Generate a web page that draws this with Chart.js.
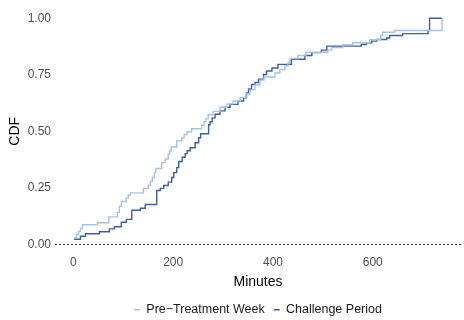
<!DOCTYPE html>
<html>
<head>
<meta charset="utf-8">
<title>CDF of minutes</title>
<script src="https://cdn.jsdelivr.net/npm/chart.js@4/dist/chart.umd.min.js"></script>
<style>
  html, body { margin: 0; padding: 0; background: #ffffff; }
  #wrap { width: 464px; height: 320px; }
</style>
</head>
<body>
<div id="wrap"><canvas id="cdfChart" width="464" height="320"></canvas></div>
<script>
// Empirical CDF steps: minute where the step happens, CDF value after it
const preMinutes = [1, 6, 10, 14, 18, 48, 71, 88, 92, 96, 106, 110, 114, 140, 150, 154, 158, 162, 165,
    177, 184, 190, 193, 196, 207, 217, 222, 228, 237, 257, 262, 265, 270, 280, 294, 308, 320, 334,
    346, 354, 364, 374, 382, 404, 414, 424, 430, 434, 450, 466, 510, 518, 540, 560, 594, 616, 620,
    644, 739];
const preCdf = [0.029, 0.044, 0.057, 0.070, 0.086, 0.095, 0.121, 0.141, 0.167, 0.189, 0.205, 0.218,
    0.227, 0.247, 0.260, 0.278, 0.295, 0.317, 0.335, 0.361, 0.377, 0.399, 0.414, 0.430, 0.458, 0.471,
    0.485, 0.498, 0.511, 0.526, 0.542, 0.555, 0.573, 0.588, 0.606, 0.621, 0.634, 0.650, 0.665, 0.683,
    0.705, 0.727, 0.740, 0.758, 0.773, 0.789, 0.804, 0.822, 0.835, 0.850, 0.859, 0.870, 0.883, 0.892,
    0.905, 0.925, 0.938, 0.946, 1.000];

const challengeMinutes = [1, 14, 24, 52, 72, 82, 96, 106, 117, 134, 144, 167, 174, 181, 190, 197, 201,
    207, 211, 218, 224, 228, 234, 244, 251, 255, 271, 274, 278, 284, 294, 304, 314, 330, 341, 347,
    351, 357, 364, 371, 381, 387, 398, 410, 437, 464, 478, 497, 508, 577, 587, 598, 608, 628, 634,
    660, 711, 714, 739];
const challengeCdf = [0.022, 0.035, 0.046, 0.055, 0.068, 0.077, 0.097, 0.110, 0.150, 0.159, 0.176,
    0.238, 0.247, 0.260, 0.275, 0.295, 0.317, 0.339, 0.366, 0.385, 0.401, 0.414, 0.427, 0.449, 0.471,
    0.489, 0.529, 0.542, 0.559, 0.575, 0.590, 0.606, 0.619, 0.634, 0.648, 0.670, 0.687, 0.707, 0.716,
    0.730, 0.751, 0.767, 0.780, 0.796, 0.819, 0.835, 0.848, 0.859, 0.877, 0.884, 0.891, 0.899, 0.906,
    0.913, 0.924, 0.932, 0.946, 1.000, 1.000];

const xTicks = [0, 200, 400, 600];
const yTicks = [0, 0.25, 0.5, 0.75, 1];

const FONT = '"Liberation Sans", Arial, Helvetica, sans-serif';

document.addEventListener('DOMContentLoaded', function() {
    initCdfChart();
});

/**
 * Pair up minute / CDF arrays into points for a linear x scale
 */
function toPoints(xs, ys) {
    return xs.map((x, i) => ({ x: x, y: ys[i] }));
}

/**
 * Dashed reference line at CDF = 0
 */
const zeroLine = {
    id: 'zeroLine',
    beforeDatasetsDraw(chart) {
        const { ctx, chartArea, scales } = chart;
        const y = Math.round(scales.y.getPixelForValue(0)) + 0.5;
        ctx.save();
        ctx.strokeStyle = '#333333';
        ctx.lineWidth = 1;
        ctx.setLineDash([2, 2]);
        ctx.beginPath();
        ctx.moveTo(chartArea.left, y);
        ctx.lineTo(chartArea.right, y);
        ctx.stroke();
        ctx.restore();
    }
};

function initCdfChart() {
    const canvas = document.getElementById('cdfChart');

    new Chart(canvas, {
        type: 'line',
        data: {
            datasets: [{
                label: 'Pre\u2212Treatment Week',
                data: toPoints(preMinutes, preCdf),
                borderColor: '#a6c3e6',
                backgroundColor: '#a6c3e6',
                borderWidth: 1.4,
                stepped: true,
                pointRadius: 0,
                fill: false
            }, {
                label: 'Challenge Period',
                data: toPoints(challengeMinutes, challengeCdf),
                borderColor: '#3d5f9e',
                backgroundColor: '#3d5f9e',
                borderWidth: 1.4,
                stepped: true,
                pointRadius: 0,
                fill: false
            }]
        },
        options: {
            responsive: false,
            animation: false,
            devicePixelRatio: 1,
            layout: {
                padding: { top: 5.6, right: 3, bottom: -6, left: 0 }
            },
            plugins: {
                legend: {
                    position: 'bottom',
                    fullSize: false,
                    labels: {
                        usePointStyle: true,
                        pointStyle: 'line',
                        pointStyleWidth: 6,
                        boxHeight: 8,
                        padding: 9,
                        color: '#1a1a1a',
                        font: { family: FONT, size: 12.5 }
                    }
                },
                tooltip: { enabled: false }
            },
            scales: {
                x: {
                    type: 'linear',
                    min: -37,
                    max: 777,
                    grid: { display: false, drawTicks: false },
                    border: { display: false },
                    afterBuildTicks: function(scale) {
                        scale.ticks = xTicks.map(v => ({ value: v }));
                    },
                    afterFit: function(scale) {
                        scale.height = 39;
                    },
                    ticks: {
                        padding: 0,
                        color: '#4d4d4d',
                        font: { family: FONT, size: 12 }
                    },
                    title: {
                        display: true,
                        text: 'Minutes',
                        color: '#000000',
                        padding: { top: 0, bottom: 3.6 },
                        font: { family: FONT, size: 14 }
                    }
                },
                y: {
                    type: 'linear',
                    min: -0.05,
                    max: 1.05,
                    grid: { display: false, drawTicks: false },
                    border: { display: false },
                    afterBuildTicks: function(scale) {
                        scale.ticks = yTicks.map(v => ({ value: v }));
                    },
                    afterFit: function(scale) {
                        scale.width = 55;
                    },
                    ticks: {
                        padding: 4,
                        color: '#4d4d4d',
                        font: { family: FONT, size: 12, lineHeight: 0.5 },
                        callback: value => Number(value).toFixed(2)
                    },
                    title: {
                        display: true,
                        text: 'CDF',
                        color: '#000000',
                        padding: { top: 6.6, bottom: 0 },
                        font: { family: FONT, size: 14 }
                    }
                }
            }
        },
        plugins: [zeroLine]
    });
}
</script>
</body>
</html>
